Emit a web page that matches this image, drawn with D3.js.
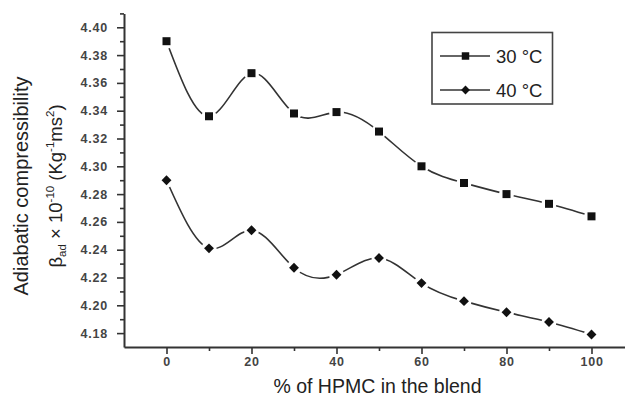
<!DOCTYPE html>
<html>
<head>
<meta charset="utf-8">
<script src="https://cdn.jsdelivr.net/npm/d3@7"></script>
<style>
  html, body { margin: 0; padding: 0; background: #fff; }
  svg { display: block; font-family: "Liberation Sans", Arial, sans-serif; }
</style>
</head>
<body>
<svg id="chart" width="625" height="403"></svg>
<script>
const hpmc = [0, 10, 20, 30, 40, 50, 60, 70, 80, 90, 100];
const t30 = [4.390, 4.336, 4.367, 4.338, 4.339, 4.325, 4.300, 4.288, 4.280, 4.273, 4.264];
const t40 = [4.290, 4.241, 4.254, 4.227, 4.222, 4.234, 4.216, 4.203, 4.195, 4.188, 4.179];
const xMajor = [0, 20, 40, 60, 80, 100];
const xMinor = [-10, 10, 30, 50, 70, 90, 110];
const yMajor = [4.18, 4.20, 4.22, 4.24, 4.26, 4.28, 4.30, 4.32, 4.34, 4.36, 4.38, 4.40];
const yMinor = [4.17, 4.19, 4.21, 4.23, 4.25, 4.27, 4.29, 4.31, 4.33, 4.35, 4.37, 4.39, 4.41];
const seriesNames = ["30 °C", "40 °C"];

const svg = d3.select("#chart");
const ink = "#333";

const x = d3.scaleLinear().domain([-10, 110]).range([124, 634]);
const y = d3.scaleLinear().domain([4.17, 4.41]).range([347, 13.4]);

// X axis
const gx = svg.append("g").attr("transform", `translate(0,${y(4.17)})`);
gx.call(d3.axisBottom(x).tickValues(xMajor).tickSize(7).tickSizeOuter(0).tickPadding(3).tickFormat(d3.format("d")));
const gxm = svg.append("g").attr("transform", `translate(0,${y(4.17)})`);
gxm.call(d3.axisBottom(x).tickValues(xMinor.filter(v => v > -10 && v < 110)).tickSize(4).tickSizeOuter(0).tickFormat(""));
gxm.select(".domain").remove();

// Y axis
const gy = svg.append("g").attr("transform", `translate(${x(-10)},0)`);
gy.call(d3.axisLeft(y).tickValues(yMajor).tickSize(7).tickSizeOuter(0).tickPadding(9).tickFormat(d3.format(".2f")));
const gym = svg.append("g").attr("transform", `translate(${x(-10)},0)`);
gym.call(d3.axisLeft(y).tickValues(yMinor.filter(v => v > 4.17)).tickSize(4).tickSizeOuter(0).tickFormat(""));
gym.select(".domain").remove();

svg.selectAll(".domain").attr("stroke", ink).attr("stroke-width", 2);
svg.selectAll(".tick line").attr("stroke", ink).attr("stroke-width", 1.6);
svg.selectAll(".tick text").attr("fill", "#444").attr("font-size", 12.5).attr("font-weight", "bold")
   .attr("font-family", "'Liberation Sans', Arial, sans-serif").style("letter-spacing", "0.8px");

// Lines
const line = d3.line().x((d, i) => x(hpmc[i])).y(d => y(d)).curve(d3.curveNatural);
const data = [t30, t40];
const shapes = [d3.symbolSquare, d3.symbolDiamond2];
const sizes = [64, 62];

data.forEach((s, k) => {
  svg.append("path").attr("d", line(s)).attr("fill", "none").attr("stroke", ink).attr("stroke-width", 1.6);
  svg.append("g").selectAll("circle").data(s).join("circle")
    .attr("cx", (d, i) => x(hpmc[i])).attr("cy", d => y(d)).attr("r", 7.5).attr("fill", "#fff");
  svg.append("g").selectAll("path").data(s).join("path")
    .attr("transform", (d, i) => `translate(${x(hpmc[i])},${y(d)})`)
    .attr("d", d3.symbol().type(shapes[k]).size(sizes[k])())
    .attr("fill", "#111");
});

// Legend
const lg = svg.append("g");
lg.append("rect").attr("x", 432).attr("y", 32.5).attr("width", 120.5).attr("height", 71.5)
  .attr("fill", "#fff").attr("stroke", "#444").attr("stroke-width", 1.6);
seriesNames.forEach((name, k) => {
  const cy = 56 + k * 34;
  lg.append("line").attr("x1", 440).attr("x2", 490).attr("y1", cy).attr("y2", cy)
    .attr("stroke", ink).attr("stroke-width", 1.6);
  lg.append("path").attr("transform", `translate(465.5,${cy})`)
    .attr("d", d3.symbol().type(shapes[k]).size(k === 0 ? 56 : 50)()).attr("fill", "#111");
  lg.append("text").attr("x", 496).attr("y", cy + 6.5).attr("font-size", 18.5).attr("fill", "#222").text(name);
});

// X label
svg.append("text").attr("x", 377.5).attr("y", 393).attr("text-anchor", "middle")
  .attr("font-size", 19.5).attr("fill", "#222").text("% of HPMC in the blend");

// Y label
const yl = svg.append("g").attr("transform", "translate(0,186) rotate(-90)");
yl.append("text").attr("x", 0).attr("y", 28).attr("text-anchor", "middle")
  .attr("font-size", 20).attr("fill", "#222").text("Adiabatic compressibility");
const t2 = yl.append("text").attr("x", 0).attr("y", 62).attr("text-anchor", "middle")
  .attr("font-size", 18.5).attr("fill", "#222");
t2.append("tspan").text("β");
t2.append("tspan").attr("font-size", 11.5).attr("dy", 4).text("ad");
t2.append("tspan").attr("dy", -4).text(" × 10");
t2.append("tspan").attr("font-size", 11.5).attr("dy", -8).text("-10");
t2.append("tspan").attr("dy", 8).text(" (Kg");
t2.append("tspan").attr("font-size", 11.5).attr("dy", -8).text("-1");
t2.append("tspan").attr("dy", 8).text("ms");
t2.append("tspan").attr("font-size", 11.5).attr("dy", -8).text("2");
t2.append("tspan").attr("dy", 8).text(")");
</script>
</body>
</html>
